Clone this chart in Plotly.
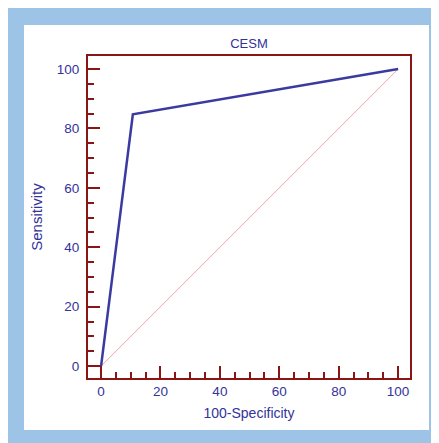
import plotly.graph_objects as go

# Data
spec_100 = [0, 10.7, 100]
sensitivity = [0, 84.8, 100]
diag_x = [0, 100]
diag_y = [0, 100]
tick_vals = [0, 20, 40, 60, 80, 100]

# Page is offset by the 8px body margin; figure coordinates below are relative to figure
W, H = 431, 435
L, R, T, B = 80, 29, 48, 65
pw, ph = W - L - R, H - T - B

def px(x):
    return (x - L) / pw

def py(y):
    return (H - B - y) / ph

red = "#8B1414"
navy = "#333399"
font = "Liberation Sans, Arial, sans-serif"

fig = go.Figure()
fig.add_trace(go.Scatter(x=diag_x, y=diag_y, mode="lines",
                         line=dict(color="#E8A4A4", width=1), hoverinfo="skip"))
fig.add_trace(go.Scatter(x=spec_100, y=sensitivity, mode="lines",
                         line=dict(color="#3A3AA0", width=2.5)))

axis_common = dict(
    showline=True, linecolor=red, linewidth=2, mirror=True,
    ticks="inside", ticklen=12, tickwidth=2, tickcolor=red,
    tickvals=tick_vals, showgrid=False, zeroline=False,
    tickfont=dict(family=font, size=13.5, color=navy),
    minor=dict(ticks="inside", ticklen=6, tickwidth=2, tickcolor=red, dtick=5, tick0=0, showgrid=False),
)

fig.update_layout(
    width=W, height=H,
    margin=dict(l=L, r=R, t=T, b=B),
    paper_bgcolor="#9DC3E6", plot_bgcolor="white",
    showlegend=False,
    title=dict(text="CESM", x=241 / W, xanchor="center", y=1 - 35 / H, yanchor="middle",
               font=dict(family=font, size=13, color=navy)),
    xaxis=dict(range=[-4.4, 104.0], title=dict(text="100-Specificity", standoff=10,
               font=dict(family=font, size=14, color=navy)), **axis_common),
    yaxis=dict(range=[-4.0, 104.4], ticklabelstandoff=4,
               title=dict(text="Sensitivity", standoff=11,
               font=dict(family=font, size=15, color=navy)), **axis_common),
    shapes=[
        dict(type="rect", xref="paper", yref="paper", x0=px(16), x1=px(421), y0=py(422), y1=py(17),
             fillcolor="white", line=dict(width=0), layer="below"),
    ],
)

fig.write_html("out.html")
